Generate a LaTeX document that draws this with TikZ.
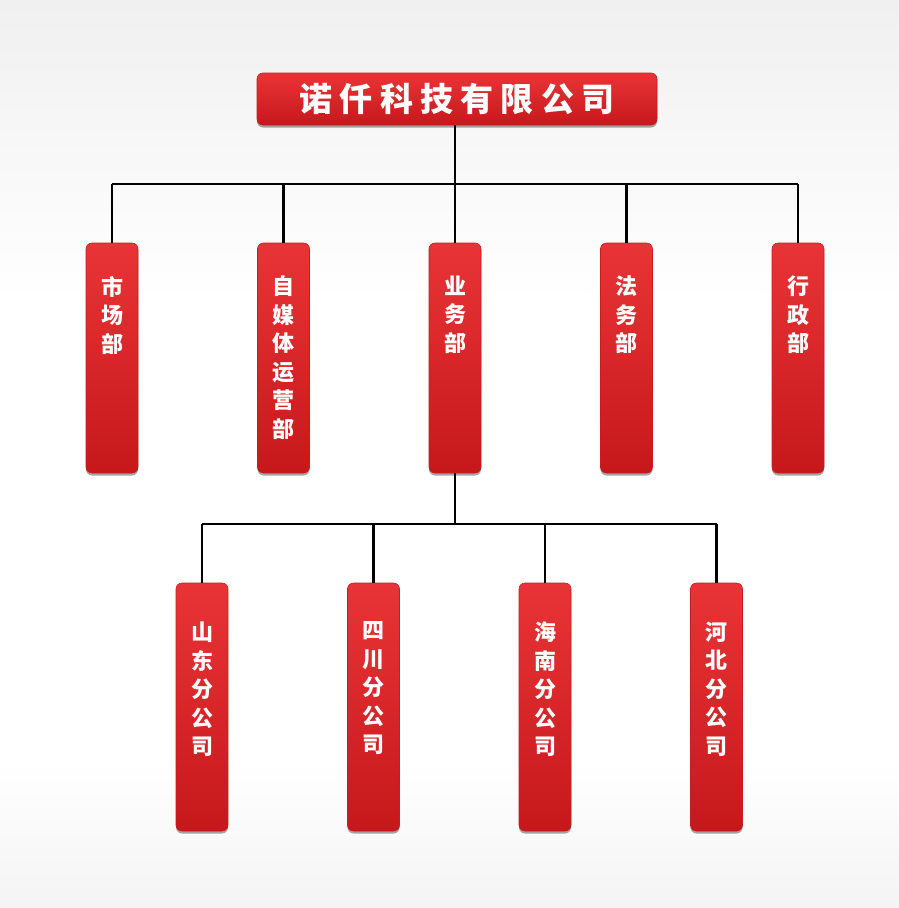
\documentclass[tikz,border=0pt]{standalone}
\usepackage{fontspec}
\setmainfont{Noto Sans CJK SC}
\newfontfamily\titlefont[LetterSpace=22]{Noto Sans CJK SC}
\usetikzlibrary{positioning,shadows}

\definecolor{bgtop}{RGB}{240,240,240}
\definecolor{bgbot}{RGB}{244,244,244}
\definecolor{boxtop}{RGB}{233,52,55}
\definecolor{boxmid}{RGB}{225,27,30}
\definecolor{boxbot}{RGB}{198,24,27}
\definecolor{boxline}{RGB}{200,28,30}

\tikzset{
  redbox/.style={draw=boxline, line width=0.6pt, rounded corners=6pt,
    top color=boxtop, middle color=boxmid, bottom color=boxbot,
    drop shadow={shadow xshift=0pt, shadow yshift=-2.5pt, fill=black, opacity=.35}},
  topbox/.style={redbox, minimum width=400pt, minimum height=52pt, inner sep=0pt,
    text=white, font=\titlefont\bfseries\fontsize{33}{36}\selectfont},
  deptbox/.style={redbox, minimum width=52pt, minimum height=230pt, inner sep=0pt},
  subbox/.style={redbox, minimum width=52pt, minimum height=248pt, inner sep=0pt},
  boxtext/.style={anchor=north, inner sep=0pt, align=center, text=white,
    font=\bfseries\fontsize{22}{28.5}\selectfont},
  link/.style={line width=2.4pt, black}
}

\begin{document}
\begin{tikzpicture}[x=1pt,y=-1pt,node distance=171.5pt]
  % background
  \fill[white] (0,0) rectangle (899,908);
  \shade[top color=bgtop, bottom color=white] (0,0) rectangle (899,300);
  \shade[top color=white, bottom color=bgbot] (0,760) rectangle (899,908);
  \useasboundingbox (0,0) rectangle (899,908);

  \node[topbox] (co) at (457,99) {诺仟科技有限公司};

  % departments
  \node[deptbox, label={[boxtext, yshift=-33pt]north:市\\场\\部}] (sc) at (112,358) {};
  \node[deptbox, label={[boxtext, yshift=-33pt]north:自\\媒\\体\\运\\营\\部}] (zmt) [right of=sc] {};
  \node[deptbox, label={[boxtext, yshift=-33pt]north:业\\务\\部}] (yw) [right of=zmt] {};
  \node[deptbox, label={[boxtext, yshift=-33pt]north:法\\务\\部}] (fw) [right of=yw] {};
  \node[deptbox, label={[boxtext, yshift=-33pt]north:行\\政\\部}] (xz) [right of=fw] {};

  % branches
  \node[subbox, label={[boxtext, yshift=-39pt]north:山\\东\\分\\公\\司}] (sd) at (202,707) {};
  \node[subbox, label={[boxtext, yshift=-39pt]north:四\\川\\分\\公\\司}] (scf) [right of=sd] {};
  \node[subbox, label={[boxtext, yshift=-39pt]north:海\\南\\分\\公\\司}] (hn) [right of=scf] {};
  \node[subbox, label={[boxtext, yshift=-39pt]north:河\\北\\分\\公\\司}] (hb) [right of=hn] {};

  \coordinate (j1) at (455,184);
  \coordinate (j2) at (455,524);

  \draw[link] (co.south -| j1) -- (j1);
  \draw[link] (sc.north |- j1) -- (xz.north |- j1);
  \foreach \n in {sc,zmt,yw,fw,xz}
    \draw[link] (\n.north) -- (\n.north |- j1);

  \draw[link] (yw.south) -- (j2);
  \draw[link] (sd.north |- j2) -- (hb.north |- j2);
  \foreach \n in {sd,scf,hn,hb}
    \draw[link] (\n.north) -- (\n.north |- j2);
\end{tikzpicture}
\end{document}
